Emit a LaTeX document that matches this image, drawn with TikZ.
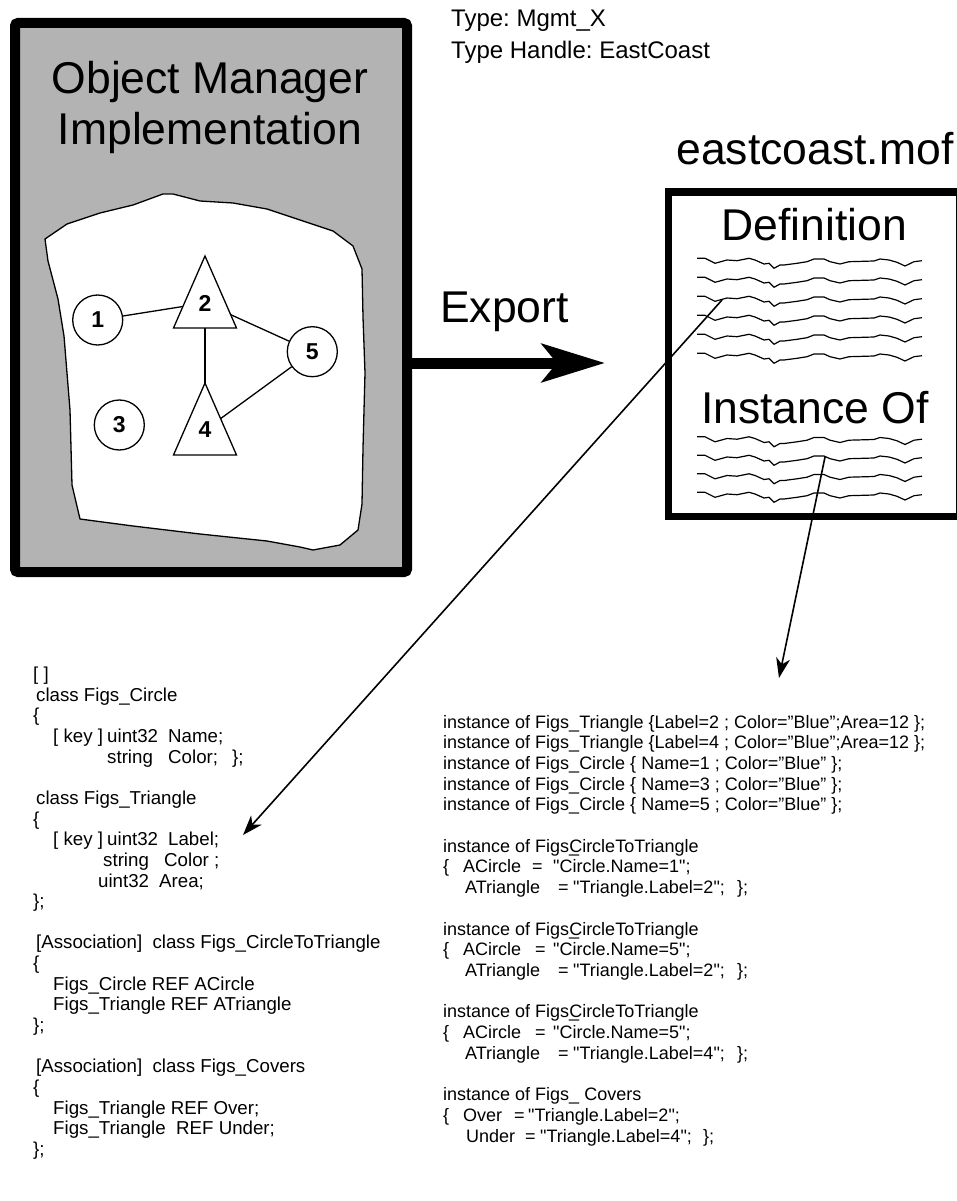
\documentclass[tikz,border=0pt]{standalone}
\usepackage{fontspec}
\setmainfont{Liberation Sans}
\usetikzlibrary{arrows.meta,calc}
\pgfdeclarelayer{bg}
\pgfdeclarelayer{edgelayer}
\pgfsetlayers{bg,edgelayer,main}
\definecolor{mgray}{RGB}{179,179,179}
\newcommand\lcode[4]{\node[lcd] (#1) at (#2,{680.5+20.65*#3}) {#4};}
\newcommand\rcode[4]{\node[rcd] (#1) at (#2,{728+20.7*#3}) {#4};}
\newcommand\qq{\textquotedbl}
\frenchspacing
\begin{document}
\frenchspacing
\begin{tikzpicture}[x=1pt,y=-1pt,
  big/.style={font=\fontsize{44.5}{50}\selectfont, inner sep=0, anchor=base},
  typefont/.style={font=\fontsize{24}{28}\selectfont, inner sep=0, anchor=base west},
  lcd/.style={font=\fontsize{18.7}{21}\selectfont, inner sep=0, anchor=base west},
  rcd/.style={font=\fontsize{18}{21}\selectfont, inner sep=0, anchor=base west},
  numnode/.style={circle, draw, line width=1.3pt, fill=white, minimum size=50pt, inner sep=0, font=\bfseries\fontsize{23}{26}\selectfont},
  numlabel/.style={inner sep=1pt, font=\bfseries\fontsize{23}{26}\selectfont},
  tri/.style={draw, line width=1.3pt, fill=white, line join=miter},
  edge/.style={line width=1.3pt},
  thinarrow/.style={line width=1.6pt, -{Stealth[length=20pt,width=14pt,inset=6pt]}},
  bigarrow/.style={line width=11pt, -{Stealth[length=63pt,width=38pt,inset=15pt]}},
  wavy/.pic={\draw[line width=1.2pt, line join=round] plot coordinates {(0,-1.7) (8,-1.7) (18,3.3) (30,0) (40,0.7) (52,-1.7) (58,0) (67,4) (72,3.3) (77,8.3) (83,5) (87,5) (100,3.3) (110,1.7) (117,-1) (127,-1) (133,1.7) (143,4) (152,1.7) (177,1) (183,-1) (192,0) (200,2.3) (208,6) (217,1.7) (225,0.7)};}
]
\useasboundingbox (0,0) rectangle (957,1201);

% ---------- left: object manager box ----------
\begin{pgfonlayer}{bg}
\node[draw, line width=10pt, fill=mgray, minimum width=392pt, minimum height=549pt, inner sep=0, rounded corners=3pt] (omb) at (211,297.5) {};
\path[draw, fill=white, line width=1.3pt, line join=round]
  (45,239) -- (67,224) -- (100,213) -- (133,205) -- (163,194) -- (173,194) -- (200,201) -- (233,203) -- (267,209) -- (300,220) -- (333,231) -- (353,246) -- (362,269) -- (363,317) -- (365,373) -- (363,448) -- (362,504) -- (358,530) -- (340,545) -- (313,550) -- (300,547) -- (267,541) -- (200,534) -- (133,526) -- (80,519) -- (72,485) -- (70,410) -- (67,373) -- (64,336) -- (58,299) -- (48,261) -- cycle;
\end{pgfonlayer}

\node[big] (omt1) at (210,94) {Object Manager};
\node[big] (omt2) at (210,145) {Implementation};

% graph
\node[numnode] (n1) at (97.7,320) {1};
\node[numnode] (n3) at (119.3,425) {3};
\node[numnode] (n5) at (312.3,351.7) {5};
\draw[tri] (205,256) -- (236.5,328) -- (173.5,328) -- cycle;
\draw[tri] (205,383) -- (236.5,455) -- (173.5,455) -- cycle;
\node[numlabel] (t2) at (205,303) {2};
\node[numlabel] (t4) at (205,430) {4};
\begin{pgfonlayer}{edgelayer}
\draw[edge] (n1) -- (t2.center);
\draw[edge] (t2.center) -- (t4.center);
\draw[edge] (t2.center) -- (n5);
\draw[edge] (t4.center) -- (n5);
\end{pgfonlayer}

% ---------- export arrow ----------
\coordinate (exptip) at (605,363);
\draw[bigarrow] (omb.east |- exptip) -- (exptip);
\node[big, anchor=base west] (export) at (440,322) {Export};

% ---------- type labels ----------
\node[typefont] (type1) at (451,27) {Type: Mgmt\_X};
\node[typefont] (type2) at (451,59) {Type Handle: EastCoast};

% ---------- mof file ----------
\node[big] (mofname) at (815,165) {eastcoast.mof};
\node[draw, line width=7pt, fill=white, minimum width=291pt, minimum height=324pt, inner sep=0] (mof) at (813.5,354) {};
\node[big] (defn) at (814.5,240) {Definition};
\node[big] (inst) at (815,423) {Instance Of};
\foreach \yy in {260,279,298,317,336,355} \pic at (697,\yy) {wavy};
\foreach \yy in {438.5,457,475.5,494} \pic at (697,\yy) {wavy};

% ---------- thin arrows ----------
\coordinate (defsrc) at (722,300);
\coordinate (clsdst) at (243,835);
\draw[thinarrow] (defsrc) -- (clsdst);
\coordinate (instsrc) at (825,457);
\coordinate (insdst) at (779,678);
\draw[thinarrow] (instsrc) -- (insdst);

% ---------- left code ----------
\lcode{L0}{33}{0}{[ ]}
\lcode{L1}{36}{1}{class Figs\_Circle}
\lcode{L2}{33}{2}{\{}
\lcode{L3a}{53}{3}{[ key ]}
\lcode{L3b}{107}{3}{uint32}
\lcode{L3c}{168}{3}{Name;}
\lcode{L4a}{107}{4}{string}
\lcode{L4b}{168}{4}{Color;}
\lcode{L4c}{232}{4}{\};}
\lcode{L6}{36}{6}{class Figs\_Triangle}
\lcode{L7}{33}{7}{\{}
\lcode{L8a}{53}{8}{[ key ]}
\lcode{L8b}{107}{8}{uint32}
\lcode{L8c}{168}{8}{Label;}
\lcode{L9a}{103}{9}{string}
\lcode{L9b}{164}{9}{Color ;}
\lcode{L10a}{98}{10}{uint32}
\lcode{L10b}{159}{10}{Area;}
\lcode{L11}{33}{11}{\};}
\lcode{L13}{36}{13}{[Association]\ \ class Figs\_CircleToTriangle}
\lcode{L14}{33}{14}{\{}
\lcode{L15}{53}{15}{Figs\_Circle REF ACircle}
\lcode{L16}{53}{16}{Figs\_Triangle REF ATriangle}
\lcode{L17}{33}{17}{\};}
\lcode{L19}{36}{19}{[Association]\ \ class Figs\_Covers}
\lcode{L20}{33}{20}{\{}
\lcode{L21}{53}{21}{Figs\_Triangle REF Over;}
\lcode{L22}{53}{22}{Figs\_Triangle\ \ REF Under;}
\lcode{L23}{33}{23}{\};}

% ---------- right code ----------
\rcode{R0}{443}{0}{instance of Figs\_Triangle \{Label=2 ; Color=”Blue”;Area=12 \};}
\rcode{R1}{443}{1}{instance of Figs\_Triangle \{Label=4 ; Color=”Blue”;Area=12 \};}
\rcode{R2}{443}{2}{instance of Figs\_Circle \{ Name=1 ; Color=”Blue” \};}
\rcode{R3}{443}{3}{instance of Figs\_Circle \{ Name=3 ; Color=”Blue” \};}
\rcode{R4}{443}{4}{instance of Figs\_Circle \{ Name=5 ; Color=”Blue” \};}
\rcode{R6}{443}{6}{instance of Figs\rlap{\_}CircleToTriangle}
\rcode{R7a}{443}{7}{\{}
\rcode{R7b}{463}{7}{ACircle}
\rcode{R7c}{532}{7}{=}
\rcode{R7d}{553}{7}{\qq Circle.Name=1\qq;}
\rcode{R8a}{465}{8}{ATriangle}
\rcode{R8b}{558}{8}{=}
\rcode{R8c}{573}{8}{\qq Triangle.Label=2\qq;}
\rcode{R8d}{737}{8}{\};}
\rcode{R10}{443}{10}{instance of Figs\rlap{\_}CircleToTriangle}
\rcode{R11a}{443}{11}{\{}
\rcode{R11b}{463}{11}{ACircle}
\rcode{R11c}{535}{11}{=}
\rcode{R11d}{553}{11}{\qq Circle.Name=5\qq;}
\rcode{R12a}{465}{12}{ATriangle}
\rcode{R12b}{558}{12}{=}
\rcode{R12c}{573}{12}{\qq Triangle.Label=2\qq;}
\rcode{R12d}{737}{12}{\};}
\rcode{R14}{443}{14}{instance of Figs\rlap{\_}CircleToTriangle}
\rcode{R15a}{443}{15}{\{}
\rcode{R15b}{463}{15}{ACircle}
\rcode{R15c}{535}{15}{=}
\rcode{R15d}{553}{15}{\qq Circle.Name=5\qq;}
\rcode{R16a}{465}{16}{ATriangle}
\rcode{R16b}{558}{16}{=}
\rcode{R16c}{573}{16}{\qq Triangle.Label=4\qq;}
\rcode{R16d}{737}{16}{\};}
\rcode{R18}{443}{18}{instance of Figs\_ Covers}
\rcode{R19a}{443}{19}{\{}
\rcode{R19b}{463}{19}{Over}
\rcode{R19c}{514}{19}{=}
\rcode{R19d}{528}{19}{\qq Triangle.Label=2\qq;}
\rcode{R20a}{466}{20}{Under}
\rcode{R20b}{525}{20}{=}
\rcode{R20c}{540}{20}{\qq Triangle.Label=4\qq;}
\rcode{R20d}{703}{20}{\};}
\end{tikzpicture}
\end{document}
